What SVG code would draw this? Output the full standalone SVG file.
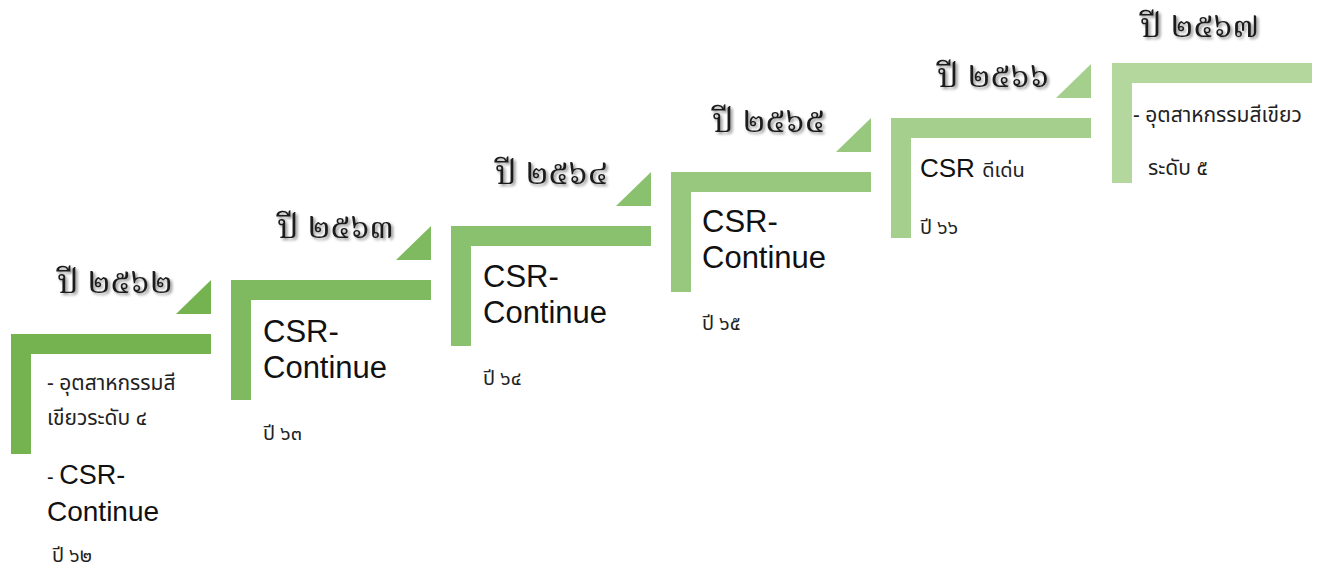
<svg xmlns="http://www.w3.org/2000/svg" width="1322" height="572" viewBox="0 0 1322 572">
<defs>
<filter id="sh" x="-10%" y="-20%" width="130%" height="160%">
<feDropShadow dx="2" dy="2" stdDeviation="1.4" flood-color="#000" flood-opacity="0.45"/>
</filter>
</defs>
<style>
.yr{font-family:"Noto Serif Thai","Noto Sans Thai","Noto Sans",serif;font-weight:normal;font-size:34px;fill:#1a1a1a;filter:url(#sh)}
.th{font-family:"Noto Sans Thai","Noto Sans","DejaVu Sans",sans-serif;font-size:21px;fill:#222}
.en{font-family:"Liberation Sans","Noto Sans Thai",sans-serif;font-size:31px;fill:#111}
.sm{font-family:"Noto Sans Thai","Noto Sans","DejaVu Sans",sans-serif;font-size:20px;fill:#222}
</style>
<rect width="1322" height="572" fill="#fff"/>
<g id="step-2562">
<path d="M11 334H211V354H31V454H11Z" fill="#74B350"/>
<path d="M176 314L211 280V314Z" fill="#74B350"/>
<text class="yr" x="57" y="293">ปี ๒๕๖๒</text>
<text class="th" x="47" y="390">- อุตสาหกรรมสี</text>
<text class="th" x="47" y="425">เขียวระดับ ๔</text>
<text class="en" x="47" y="484" style="font-size:27px"><tspan style="font-size:20px">- </tspan>CSR-</text>
<text class="en" x="47" y="521" style="font-size:28px">Continue</text>
<text class="sm" x="52" y="562">ปี ๖๒</text>
</g>
<g id="step-2563">
<path d="M231 280H431V300H251V400H231Z" fill="#80BA60"/>
<path d="M396 260L431 226V260Z" fill="#80BA60"/>
<text class="yr" x="277" y="238">ปี ๒๕๖๓</text>
<text class="en" x="263" y="342">CSR-</text>
<text class="en" x="263" y="378">Continue</text>
<text class="sm" x="263" y="440">ปี ๖๓</text>
</g>
<g id="step-2564">
<path d="M451 226H651V246H471V346H451Z" fill="#8AC16E"/>
<path d="M616 206L651 172V206Z" fill="#8AC16E"/>
<text class="yr" x="495" y="184">ปี ๒๕๖๔</text>
<text class="en" x="483" y="287">CSR-</text>
<text class="en" x="483" y="323">Continue</text>
<text class="sm" x="483" y="385">ปี ๖๔</text>
</g>
<g id="step-2565">
<path d="M671 172H871V192H691V292H671Z" fill="#97C87D"/>
<path d="M836 152L871 118V152Z" fill="#97C87D"/>
<text class="yr" x="712" y="132">ปี ๒๕๖๕</text>
<text class="en" x="702" y="232">CSR-</text>
<text class="en" x="702" y="268">Continue</text>
<text class="sm" x="702" y="330">ปี ๖๕</text>
</g>
<g id="step-2566">
<path d="M891 118H1091V138H911V238H891Z" fill="#A4CF8C"/>
<path d="M1056 98L1091 64V98Z" fill="#A4CF8C"/>
<text class="yr" x="937" y="87">ปี ๒๕๖๖</text>
<text class="en" x="920" y="177" style="font-size:26px">CSR <tspan class="th" style="font-size:20px">ดีเด่น</tspan></text>
<text class="sm" x="920" y="234">ปี ๖๖</text>
</g>
<g id="step-2567">
<path d="M1112 63H1312V83H1132V183H1112Z" fill="#B3D79D"/>
<text class="yr" x="1140" y="37">ปี ๒๕๖๗</text>
<text class="th" x="1133" y="122">- อุตสาหกรรมสีเขียว</text>
<text class="th" x="1148" y="175">ระดับ ๕</text>
</g>
<g id="connectors"/>
</svg>
